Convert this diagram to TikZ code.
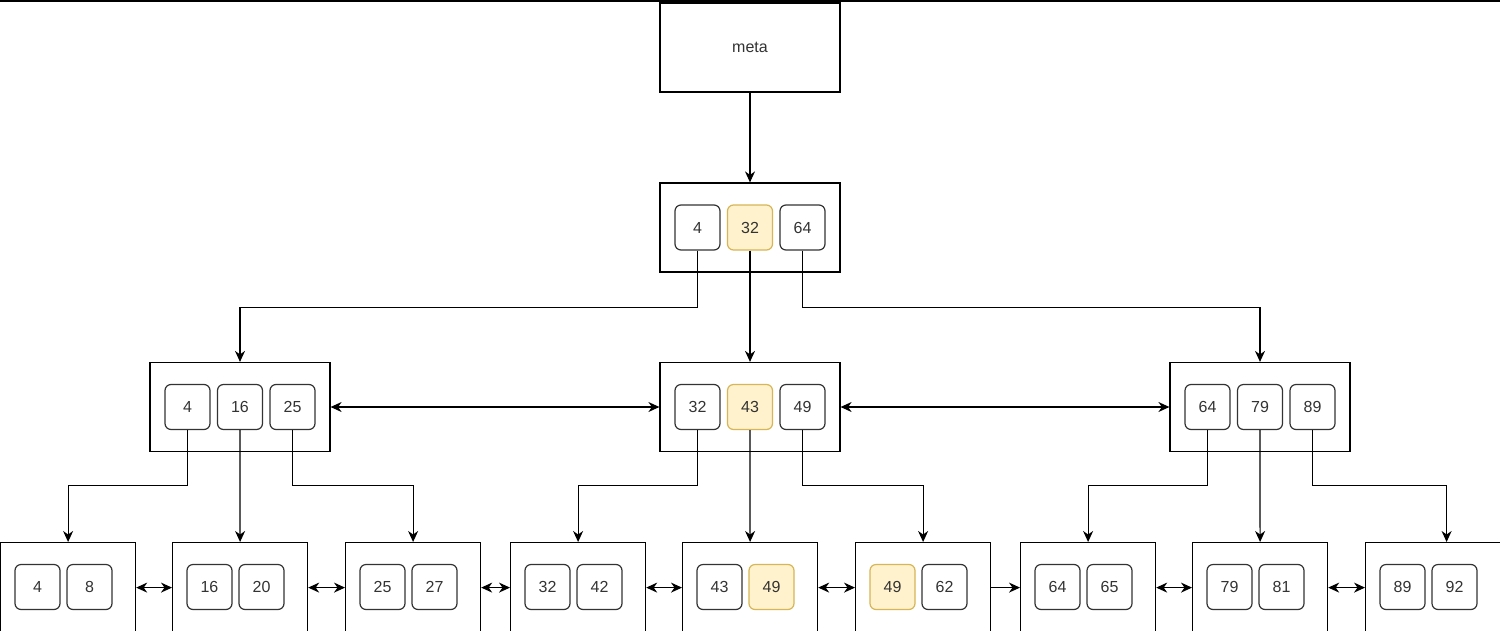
\documentclass[tikz,border=0pt]{standalone}
\usepackage{fontspec}
\setmainfont{Liberation Sans}
\usetikzlibrary{arrows.meta}
\definecolor{hlfill}{HTML}{FFF2CC}
\definecolor{hldraw}{HTML}{D6B656}
\definecolor{txt}{HTML}{333333}
\begin{document}
\begin{tikzpicture}[x=1pt,y=-1pt,
  outerbox/.style={draw=black, line width=1.2pt, minimum width=180pt, minimum height=89pt, inner sep=0pt},
  leafbox/.style={draw=black, line width=1.2pt, minimum height=90pt, inner sep=0pt, anchor=north west},
  keybox/.style={draw=txt, line width=1.2pt, rounded corners=6pt, minimum size=45pt, inner sep=0pt, text=txt, font=\fontsize{16}{18}\selectfont},
  hlbox/.style={keybox, fill=hlfill, draw=hldraw},
  arr/.style={-{Stealth[length=11pt,width=10pt,inset=3.5pt]}, line width=1.2pt},
  darr/.style={{Stealth[length=11pt,width=10pt,inset=3.5pt]}-{Stealth[length=11pt,width=10pt,inset=3.5pt]}, line width=1.2pt}
]
\useasboundingbox (0,0) rectangle (1500,630);
\fill[white] (0,0) rectangle (1500,630);
\clip (0,0) rectangle (1500,630);
\draw[line width=2.5pt] (0,1) -- (1500,1);

% meta
\node[outerbox, text=txt, font=\fontsize{16}{18}\selectfont] (meta) at (750,47.5) {meta};

% root
\node[outerbox] (root) at (750,227.5) {};
\node[keybox] (r1) at (697.5,227.5) {4};
\node[hlbox]  (r2) at (750,227.5) {32};
\node[keybox] (r3) at (802.5,227.5) {64};

% level 2
\node[outerbox] (A) at (240,407) {};
\node[keybox] (a1) at (187.5,407) {4};
\node[keybox] (a2) at (240,407) {16};
\node[keybox] (a3) at (292.5,407) {25};

\node[outerbox] (B) at (750,407) {};
\node[keybox] (b1) at (697.5,407) {32};
\node[hlbox]  (b2) at (750,407) {43};
\node[keybox] (b3) at (802.5,407) {49};

\node[outerbox] (C) at (1260,407) {};
\node[keybox] (c1) at (1207.5,407) {64};
\node[keybox] (c2) at (1260,407) {79};
\node[keybox] (c3) at (1312.5,407) {89};

% leaves
\foreach \i/\x/\w/\a/\b/\sa/\sb in {
  1/0/135/4/8/keybox/keybox,
  2/172/135/16/20/keybox/keybox,
  3/345/135/25/27/keybox/keybox,
  4/510/135/32/42/keybox/keybox,
  5/682/135/43/49/keybox/hlbox,
  6/855/135/49/62/hlbox/keybox,
  7/1020/135/64/65/keybox/keybox,
  8/1192/135/79/81/keybox/keybox,
  9/1365/162/89/92/keybox/keybox}{
  \node[leafbox, minimum width=\w] (L\i) at (\x,542) {};
  \node[\sa] (L\i a) at (\x+37.5,587) {\a};
  \node[\sb] (L\i b) at (\x+89.5,587) {\b};
}

% edges
\draw[arr] (meta) -- (root);
\draw[arr] (r1.south) -- ++(0,57) -| (A.north);
\draw[arr] (r2.south) -- (B.north);
\draw[arr] (r3.south) -- ++(0,57) -| (C.north);

\draw[darr] (A.east) -- (B.west);
\draw[darr] (B.east) -- (C.west);

\draw[arr] (a1.south) -- ++(0,55) -| (L1.north);
\draw[arr] (a2.south) -- (L2.north);
\draw[arr] (a3.south) -- ++(0,55) -| (L3.north);
\draw[arr] (b1.south) -- ++(0,55) -| (L4.north);
\draw[arr] (b2.south) -- (L5.north);
\draw[arr] (b3.south) -- ++(0,55) -| (L6.north);
\draw[arr] (c1.south) -- ++(0,55) -| (L7.north);
\draw[arr] (c2.south) -- (L8.north);
\draw[arr] (c3.south) -- ++(0,55) -| (L9.north);

\draw[darr] (L1.east) -- (L2.west);
\draw[darr] (L2.east) -- (L3.west);
\draw[darr] (L3.east) -- (L4.west);
\draw[darr] (L4.east) -- (L5.west);
\draw[darr] (L5.east) -- (L6.west);
\draw[arr]  (L6.east) -- (L7.west);
\draw[darr] (L7.east) -- (L8.west);
\draw[darr] (L8.east) -- (L9.west);
\end{tikzpicture}
\end{document}
